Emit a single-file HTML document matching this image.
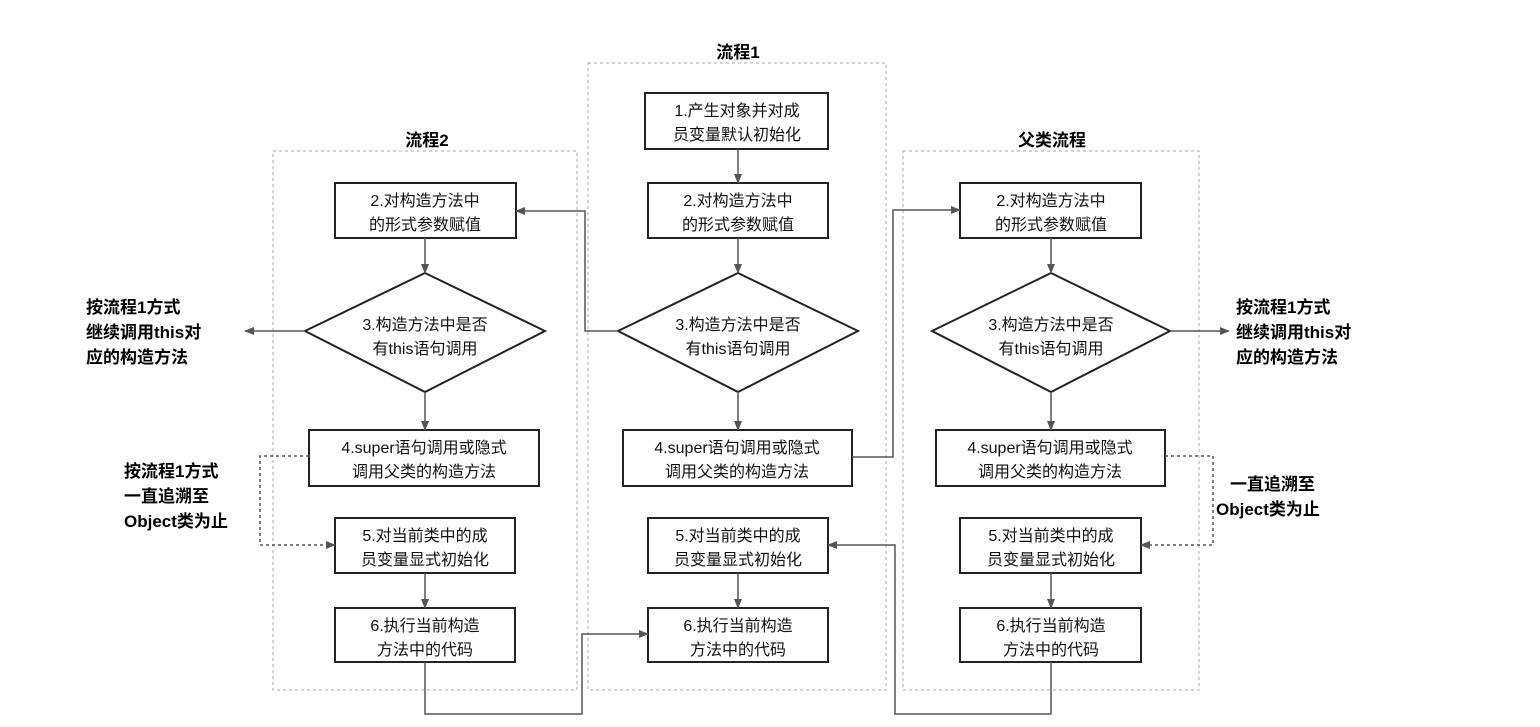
<!DOCTYPE html>
<html><head><meta charset="utf-8"><style>
html,body{margin:0;padding:0;background:#fff;width:1540px;height:727px;overflow:hidden}
text{font-family:"Liberation Sans","Noto Sans CJK SC",sans-serif}
.t{font-size:16px;fill:#111;text-anchor:middle}
.b{font-size:17px;font-weight:bold;fill:#000}
</style></head><body>
<svg width="1540" height="727" xmlns="http://www.w3.org/2000/svg">
<defs><marker id="a" markerWidth="10" markerHeight="8" refX="9" refY="4" orient="auto" markerUnits="userSpaceOnUse"><path d="M0,0 L10,4 L0,8 z" fill="#555"/></marker></defs>
<g fill="none" stroke="#aaa" stroke-dasharray="3,3" stroke-width="1">
<rect x="273" y="151" width="304" height="539"/>
<rect x="588" y="63" width="298" height="627"/>
<rect x="903" y="151" width="296" height="539"/>
</g>
<g class="b" text-anchor="middle">
<text x="427" y="146">流程2</text>
<text x="738" y="58">流程1</text>
<text x="1052" y="146">父类流程</text>
</g>
<g stroke="#222" stroke-width="2" fill="#fff">
<rect x="645" y="93" width="183" height="56"/>
<rect x="335" y="183" width="181" height="55"/>
<rect x="648" y="183" width="180" height="55"/>
<rect x="960" y="183" width="181" height="55"/>
<polygon points="425,273 545,331 425,392 305,331"/>
<polygon points="738,273 858,331 738,392 618,331"/>
<polygon points="1051,273 1170,331 1051,392 932,331"/>
<rect x="309" y="430" width="230" height="56"/>
<rect x="623" y="430" width="229" height="56"/>
<rect x="936" y="430" width="229" height="56"/>
<rect x="335" y="518" width="180" height="55"/>
<rect x="648" y="518" width="180" height="55"/>
<rect x="960" y="518" width="181" height="55"/>
<rect x="335" y="608" width="180" height="54"/>
<rect x="648" y="608" width="180" height="54"/>
<rect x="960" y="608" width="181" height="54"/>
</g>
<g stroke="#555" stroke-width="1.5" fill="none" marker-end="url(#a)">
<line x1="738" y1="149" x2="738" y2="183"/>
<line x1="425" y1="238" x2="425" y2="273"/><line x1="738" y1="238" x2="738" y2="273"/><line x1="1051" y1="238" x2="1051" y2="273"/>
<line x1="425" y1="392" x2="425" y2="430"/><line x1="738" y1="392" x2="738" y2="430"/><line x1="1051" y1="392" x2="1051" y2="430"/>
<line x1="425" y1="573" x2="425" y2="608"/><line x1="738" y1="573" x2="738" y2="608"/><line x1="1051" y1="573" x2="1051" y2="608"/>
<line x1="305" y1="331" x2="245" y2="331"/>
<line x1="1170" y1="331" x2="1229" y2="331"/>
<polyline points="618,331 585,331 585,211 516,211"/>
<polyline points="852,457 893,457 893,210 960,210"/>
<polyline points="425,662 425,714 582,714 582,634 648,634"/>
<polyline points="1051,662 1051,714 895,714 895,545 828,545"/>
<polyline stroke-dasharray="3,3" points="309,456 260,456 260,545 335,545"/>
<polyline stroke-dasharray="3,3" points="1165,456 1213,456 1213,545 1141,545"/>
</g>
<g class="t">
<text x="737" y="116">1.产生对象并对成</text><text x="737" y="140">员变量默认初始化</text>
<text x="425" y="206">2.对构造方法中</text><text x="425" y="230">的形式参数赋值</text>
<text x="738" y="206">2.对构造方法中</text><text x="738" y="230">的形式参数赋值</text>
<text x="1051" y="206">2.对构造方法中</text><text x="1051" y="230">的形式参数赋值</text>
<text x="425" y="330">3.构造方法中是否</text><text x="425" y="354">有this语句调用</text>
<text x="738" y="330">3.构造方法中是否</text><text x="738" y="354">有this语句调用</text>
<text x="1051" y="330">3.构造方法中是否</text><text x="1051" y="354">有this语句调用</text>
<text x="424" y="453">4.super语句调用或隐式</text><text x="424" y="477">调用父类的构造方法</text>
<text x="737" y="453">4.super语句调用或隐式</text><text x="737" y="477">调用父类的构造方法</text>
<text x="1050" y="453">4.super语句调用或隐式</text><text x="1050" y="477">调用父类的构造方法</text>
<text x="425" y="541">5.对当前类中的成</text><text x="425" y="565">员变量显式初始化</text>
<text x="738" y="541">5.对当前类中的成</text><text x="738" y="565">员变量显式初始化</text>
<text x="1051" y="541">5.对当前类中的成</text><text x="1051" y="565">员变量显式初始化</text>
<text x="425" y="631">6.执行当前构造</text><text x="425" y="655">方法中的代码</text>
<text x="738" y="631">6.执行当前构造</text><text x="738" y="655">方法中的代码</text>
<text x="1051" y="631">6.执行当前构造</text><text x="1051" y="655">方法中的代码</text>
</g>
<g class="b">
<text x="86" y="313">按流程1方式</text><text x="86" y="338">继续调用this对</text><text x="86" y="363">应的构造方法</text>
<text x="124" y="477">按流程1方式</text><text x="124" y="502">一直追溯至</text><text x="124" y="527">Object类为止</text>
<text x="1236" y="313">按流程1方式</text><text x="1236" y="338">继续调用this对</text><text x="1236" y="363">应的构造方法</text>
<text x="1230" y="490">一直追溯至</text><text x="1216" y="515">Object类为止</text>
</g>
</svg>
</body></html>
